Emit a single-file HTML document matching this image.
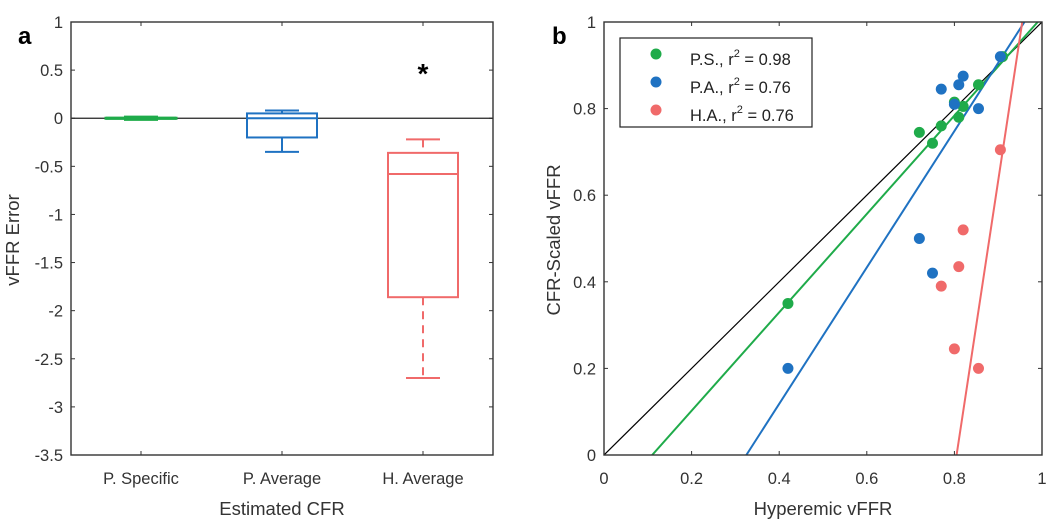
<!DOCTYPE html>
<html><head><meta charset="utf-8"><style>
body{margin:0;background:#fff}
svg{display:block;font-family:"Liberation Sans",sans-serif}
</style></head><body>
<svg id="c" width="1053" height="527"></svg>
<script>
const catsA=["P. Specific","P. Average","H. Average"];
const whiskHi=[0,0.08,-0.22];
const q3=[0,0.05,-0.36];
const med=[0,0,-0.58];
const q1=[0,-0.2,-1.86];
const whiskLo=[0,-0.35,-2.7];
const outliers=[[2,0.5]];
const ticksA=[1,0.5,0,-0.5,-1,-1.5,-2,-2.5,-3,-3.5];
const colorsA=["#1fab4a","#1f72c2","#f06a6a"];

const psX=[0.42,0.72,0.75,0.77,0.81,0.80,0.82,0.855,0.91];
const psY=[0.35,0.745,0.72,0.76,0.78,0.815,0.805,0.855,0.92];
const paX=[0.42,0.72,0.75,0.77,0.81,0.82,0.80,0.855,0.905];
const paY=[0.2,0.5,0.42,0.845,0.855,0.875,0.81,0.80,0.92];
const haX=[0.77,0.81,0.82,0.80,0.855,0.905];
const haY=[0.39,0.435,0.52,0.245,0.2,0.705];
const fitIntercepts=[0.11,0.325,0.805];
const fitSlopes=[1.136,1.575,6.67];
const legendLabels=["P.S., r","P.A., r","H.A., r"];
const legendR2=["0.98","0.76","0.76"];
const ticksB=[0,0.2,0.4,0.6,0.8,1];

const NS="http://www.w3.org/2000/svg";
const svg=document.getElementById('c');
function el(t,a,txt){const e=document.createElementNS(NS,t);for(const k in a)e.setAttribute(k,a[k]);if(txt!=null)e.textContent=txt;svg.appendChild(e);return e;}
const TF=16.5, TT=18.5;

// Panel a
const AL=71,AR=493,AT=22,AB=455;
const ya=v=>AT+(1-v)/4.5*(AB-AT);
const xa=i=>141+i*141;
let e=el('text',{x:18,y:44,'font-size':24,'font-weight':'bold',fill:'#000'},'a');

ticksA.forEach(t=>{
 e=el('text',{x:AL-8,y:ya(t)+6,'font-size':TF,fill:'#333','text-anchor':'end'},String(t));
 
 el('line',{x1:AL,x2:AL+4,y1:ya(t),y2:ya(t),stroke:'#333'});
 el('line',{x1:AR,x2:AR-4,y1:ya(t),y2:ya(t),stroke:'#333'});
});
e=el('line',{x1:AL,x2:AR,y1:ya(0),y2:ya(0),stroke:'#222','stroke-width':1.3});

catsA.forEach((c,i)=>{
 const x=xa(i),col=colorsA[i],hw=35;
 e=el('text',{x:x,y:484,'font-size':TF,fill:'#333','text-anchor':'middle'},c);
 
 el('line',{x1:x,x2:x,y1:AB,y2:AB-4,stroke:'#333'});
 el('line',{x1:x,x2:x,y1:AT,y2:AT+4,stroke:'#333'});
 const g=document.createElementNS(NS,'g');svg.appendChild(g);
 
 
 const add=(t,a)=>{const n=document.createElementNS(NS,t);for(const k in a)n.setAttribute(k,a[k]);g.appendChild(n);};
 const dash=i==2?'8,6':'none';
 const sw=i==0?3:2;
 add('line',{x1:x,x2:x,y1:ya(whiskHi[i]),y2:ya(q3[i]),stroke:col,'stroke-width':2,'stroke-dasharray':dash});
 add('line',{x1:x,x2:x,y1:ya(q1[i]),y2:ya(whiskLo[i]),stroke:col,'stroke-width':2,'stroke-dasharray':dash});
 add('line',{x1:x-17,x2:x+17,y1:ya(whiskHi[i]),y2:ya(whiskHi[i]),stroke:col,'stroke-width':i==0?5:2});
 add('line',{x1:x-17,x2:x+17,y1:ya(whiskLo[i]),y2:ya(whiskLo[i]),stroke:col,'stroke-width':i==0?5:2});
 add('rect',{x:x-hw,y:ya(q3[i]),width:2*hw,height:Math.max(ya(q1[i])-ya(q3[i]),0.1),fill:'none',stroke:col,'stroke-width':sw});
 add('line',{x1:x-hw,x2:x+hw,y1:ya(med[i]),y2:ya(med[i]),stroke:col,'stroke-width':sw});
});
outliers.forEach(o=>{
 e=el('text',{x:xa(o[0]),y:ya(o[1])+13,'font-size':28,'font-weight':'bold',fill:'#000','text-anchor':'middle'},'*');
 
});
e=el('rect',{x:AL,y:AT,width:AR-AL,height:AB-AT,fill:'none',stroke:'#333','stroke-width':1.4});

e=el('text',{x:282,y:515,'font-size':TT,fill:'#333','text-anchor':'middle'},'Estimated CFR');

e=el('text',{x:0,y:0,'font-size':TT,fill:'#333','text-anchor':'middle',transform:'translate(19,240) rotate(-90)'},'vFFR Error');


// Panel b
const BL=604,BR=1042,BT=22,BB=455;
const xb=v=>BL+v*(BR-BL), yb=v=>BB-v*(BB-BT);
e=el('text',{x:552,y:44,'font-size':24,'font-weight':'bold',fill:'#000'},'b');

ticksB.forEach(t=>{
 e=el('text',{x:BL-8,y:yb(t)+6,'font-size':TF,fill:'#333','text-anchor':'end'},String(t));
 
 e=el('text',{x:xb(t),y:484,'font-size':TF,fill:'#333','text-anchor':'middle'},String(t));
 
 el('line',{x1:BL,x2:BL+4,y1:yb(t),y2:yb(t),stroke:'#333'});
 el('line',{x1:BR,x2:BR-4,y1:yb(t),y2:yb(t),stroke:'#333'});
 el('line',{x1:xb(t),x2:xb(t),y1:BB,y2:BB-4,stroke:'#333'});
 el('line',{x1:xb(t),x2:xb(t),y1:BT,y2:BT+4,stroke:'#333'});
});
const clip=el('clipPath',{id:'cb'});
const cr=document.createElementNS(NS,'rect');cr.setAttribute('x',BL);cr.setAttribute('y',BT);cr.setAttribute('width',BR-BL);cr.setAttribute('height',BB-BT);clip.appendChild(cr);
e=el('line',{x1:xb(0),y1:yb(0),x2:xb(1),y2:yb(1),stroke:'#000','stroke-width':1.2,'clip-path':'url(#cb)'});

fitIntercepts.forEach((x0,i)=>{
 const x1=x0+1/fitSlopes[i];
 e=el('line',{x1:xb(x0),y1:yb(0),x2:xb(x1),y2:yb(1),stroke:colorsA[i],'stroke-width':2,'clip-path':'url(#cb)'});
 
});
[[psX,psY],[paX,paY],[haX,haY]].forEach((s,i)=>{
 s[0].forEach((x,j)=>{
  e=el('circle',{cx:xb(x),cy:yb(s[1][j]),r:5.5,fill:colorsA[i]});
  
 });
});
e=el('rect',{x:BL,y:BT,width:BR-BL,height:BB-BT,fill:'none',stroke:'#333','stroke-width':1.4});

e=el('rect',{x:620,y:38,width:192,height:89,fill:'#fff',stroke:'#222','stroke-width':1.2});

legendLabels.forEach((l,i)=>{
 const y=60+i*28;
 e=el('circle',{cx:656,cy:y-6,r:5.5,fill:colorsA[i]});
 
 const t=el('text',{x:690,y:y+5,'font-size':TF,fill:'#222'});
 
 const a=document.createElementNS(NS,'tspan');a.textContent=l;t.appendChild(a);
 const b=document.createElementNS(NS,'tspan');b.setAttribute('dy',-8);b.setAttribute('font-size',11);b.textContent='2';t.appendChild(b);
 const c=document.createElementNS(NS,'tspan');c.setAttribute('dy',8);c.textContent=' = '+legendR2[i];t.appendChild(c);
});
e=el('text',{x:823,y:515,'font-size':TT,fill:'#333','text-anchor':'middle'},'Hyperemic vFFR');

e=el('text',{x:0,y:0,'font-size':TT,fill:'#333','text-anchor':'middle',transform:'translate(560,240) rotate(-90)'},'CFR-Scaled vFFR');

</script>
</body></html>
